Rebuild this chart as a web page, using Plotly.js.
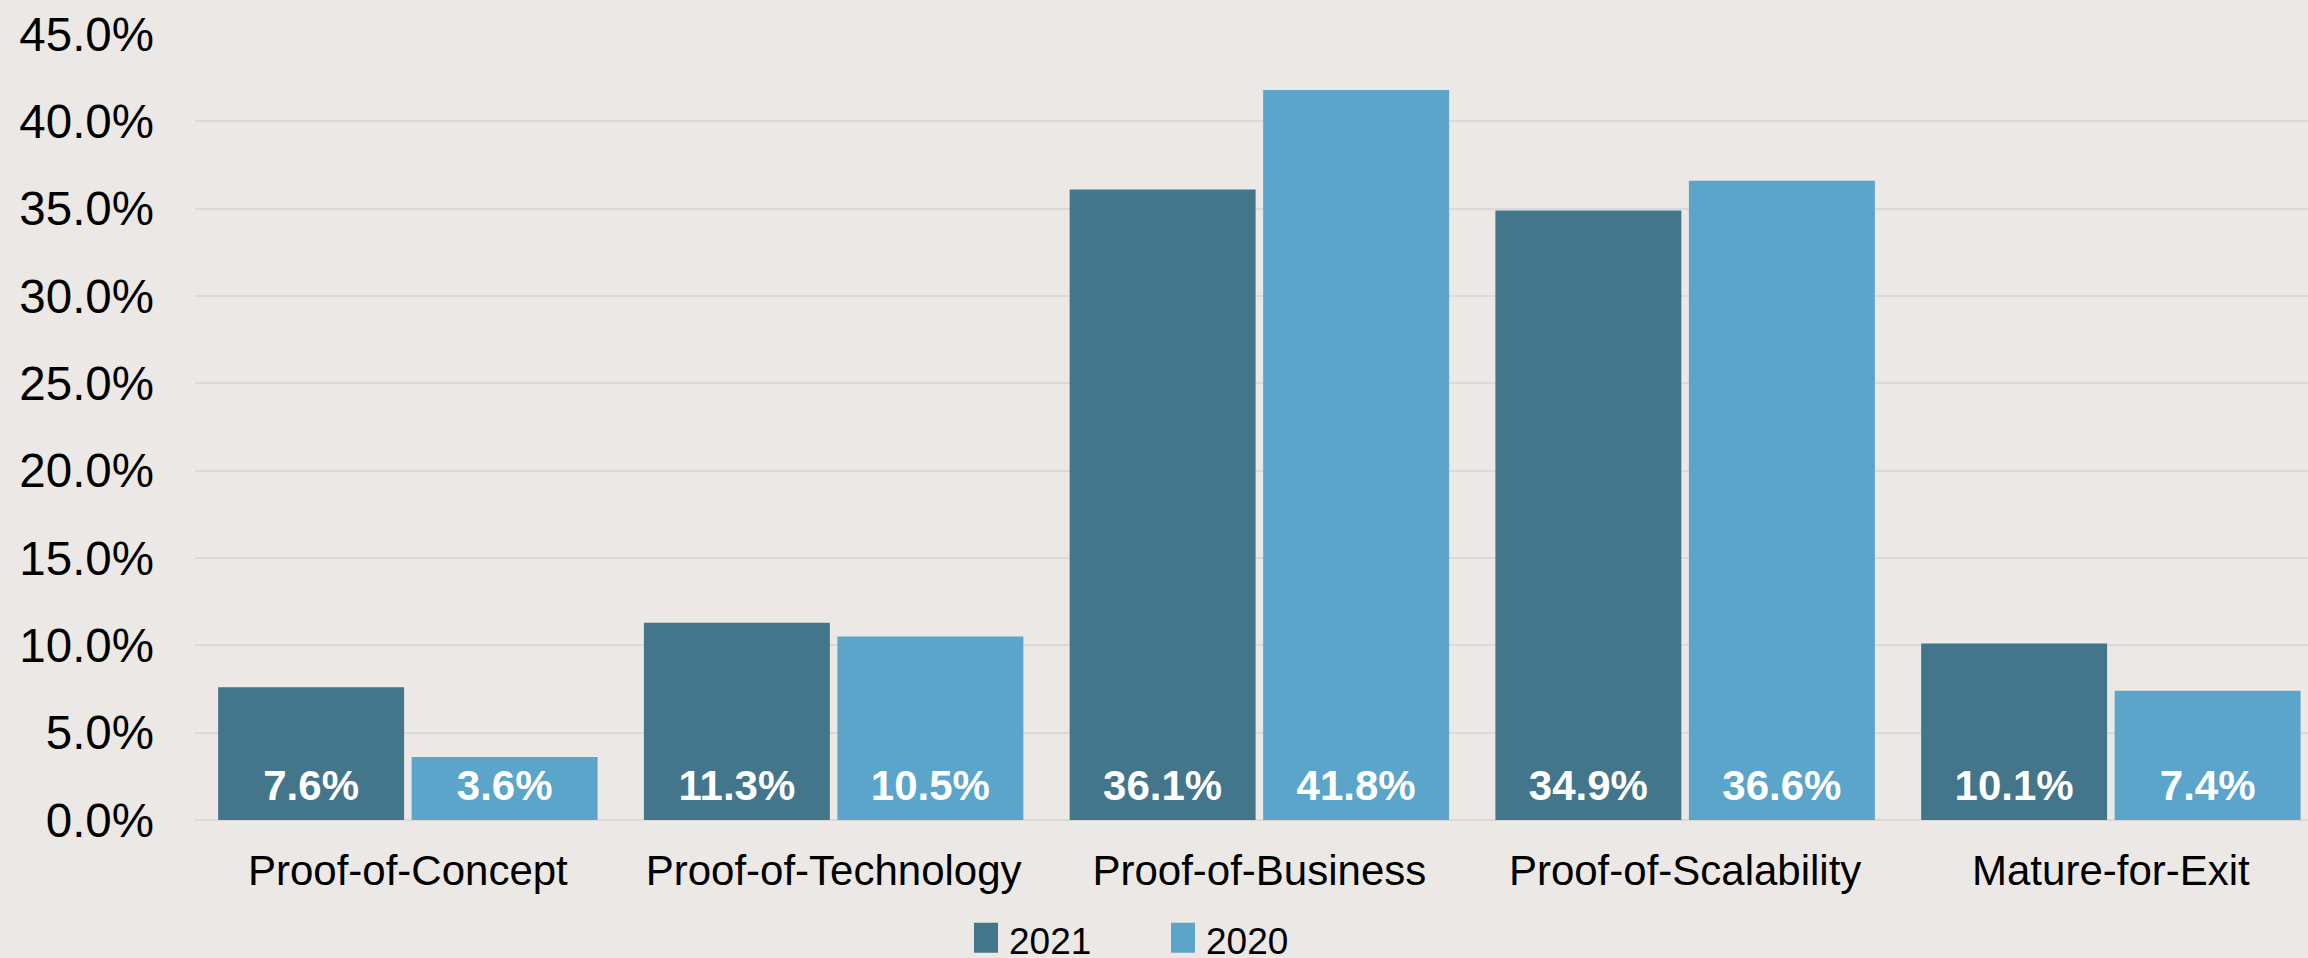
<!DOCTYPE html>
<html>
<head>
<meta charset="utf-8">
<script src="https://cdn.plot.ly/plotly-3.0.1.min.js"></script>
<style>
html,body{margin:0;padding:0;background:#ebe8e5;overflow:hidden;}
#chart{width:2308px;height:958px;}
</style>
</head>
<body>
<div id="chart"></div>
<script>
const categories = ["Proof-of-Concept", "Proof-of-Technology", "Proof-of-Business", "Proof-of-Scalability", "Mature-for-Exit"];
const values2021 = [7.6, 11.3, 36.1, 34.9, 10.1];
const values2020 = [3.6, 10.5, 41.8, 36.6, 7.4];
const yTickValues = [0, 5, 10, 15, 20, 25, 30, 35, 40, 45];
const yTickLabels = yTickValues.map(v => v.toFixed(1) + "%");

const FONT = "Liberation Sans, Arial, sans-serif";
const labelFont = {family: FONT, size: 42, color: "#ffffff", weight: "bold"};

const traces = [
  {
    type: "bar", name: "2021", x: categories, y: values2021,
    marker: {color: "#43758b"},
    texttemplate: "<b>%{y:.1f}%</b>", textposition: "inside", insidetextanchor: "start",
    textfont: labelFont, constraintext: "none", hoverinfo: "skip"
  },
  {
    type: "bar", name: "2020", x: categories, y: values2020,
    marker: {color: "#5ba5cb"},
    texttemplate: "<b>%{y:.1f}%</b>", textposition: "inside", insidetextanchor: "start",
    textfont: labelFont, constraintext: "none", hoverinfo: "skip"
  }
];

const layout = {
  width: 2308, height: 958,
  paper_bgcolor: "#ebe8e5", plot_bgcolor: "#ebe8e5",
  margin: {l: 195, r: 0, t: 34, b: 138, pad: 0, autoexpand: false},
  barmode: "group", bargap: 0.091, bargroupgap: 0.039,
  showlegend: true,
  legend: {orientation: "h", x: 0.3663, xanchor: "left", y: -0.153, yanchor: "middle",
           entrywidth: 152, entrywidthmode: "pixels",
           font: {family: FONT, size: 37, color: "#000"}, bgcolor: "rgba(0,0,0,0)", traceorder: "normal"},
  font: {family: FONT, color: "#000"},
  xaxis: {
    type: "category", range: [-0.5, 4.463], showgrid: false, zeroline: false, showline: false,
    ticks: "", tickfont: {family: FONT, size: 42, color: "#000"}, ticklabelstandoff: 22
  },
  yaxis: {
    range: [0, 45], tickvals: yTickValues, ticktext: yTickLabels,
    showgrid: true, gridcolor: "#d9d9d9", gridwidth: 2, zeroline: true, zerolinecolor: "#d9d9d9", zerolinewidth: 2,
    showline: false, ticks: "", tickfont: {family: FONT, size: 47.5, color: "#000"}, ticklabelstandoff: 40
  }
};

Plotly.newPlot("chart", traces, layout, {displayModeBar: false, staticPlot: true}).then(() => {
  document.querySelectorAll("#chart .legendpoints path").forEach(p => {
    p.setAttribute("transform", "translate(17,-2) scale(2,2.5)");
  });
  document.querySelectorAll("#chart .bartext").forEach(t => {
    const tr = t.getAttribute("transform") || "";
    t.setAttribute("transform", "translate(0,-8) " + tr);
  });
});
</script>
</body>
</html>
